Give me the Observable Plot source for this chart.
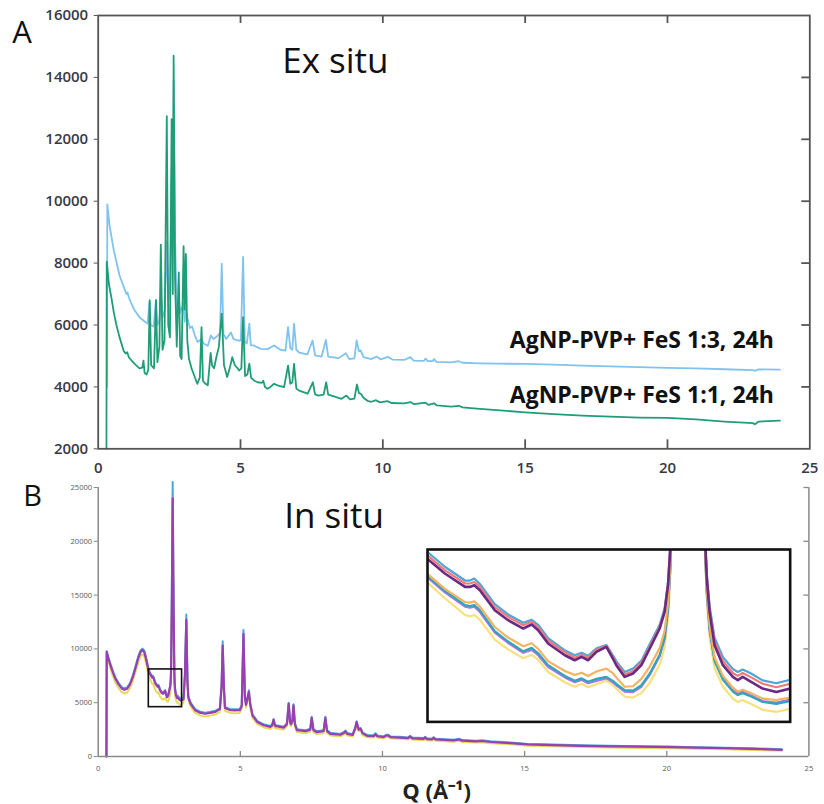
<!DOCTYPE html>
<html><head><meta charset="utf-8">
<script src="https://cdn.jsdelivr.net/npm/d3@7"></script>
<script src="https://cdn.jsdelivr.net/npm/@observablehq/plot@0.6"></script>
<style>
html,body{margin:0;padding:0;background:#fff;}
#wrap{position:relative;width:824px;height:804px;overflow:hidden;font-family:"Open Sans",sans-serif;}
#wrap svg{overflow:visible;}
#plotA [aria-label="y-axis tick label"] text,#plotA [aria-label="x-axis tick label"] text{font-weight:600;}
</style></head>
<body><div id="wrap"></div>
<script>
// ---------- Panel A (ex situ) ----------
const aXTicks = [0, 5, 10, 15, 20, 25];
const aYTicks = [2000, 4000, 6000, 8000, 10000, 12000, 14000, 16000];
const seriesLabels = ["AgNP-PVP+ FeS 1:3, 24h", "AgNP-PVP+ FeS 1:1, 24h"];
// [Q, intensity]
const aFeS13 = [[0.31,4000],[0.32,9900],[0.40,9200],[0.55,8400],[0.75,7600],[0.99,7000],[1.03,7050],[1.08,6880],[1.25,6520],[1.45,6250],[1.62,6120],[1.74,6050],[1.80,6750],[1.84,6000],[1.95,5950],[2.03,6800],[2.08,6000],[2.15,6150],[2.20,7000],[2.26,6250],[2.34,6500],[2.41,8700],[2.46,6800],[2.52,7200],[2.58,10900],[2.62,9000],[2.65,13900],[2.70,8800],[2.76,6500],[2.83,6900],[2.88,6400],[3.00,6700],[3.04,6100],[3.08,6500],[3.14,6200],[3.22,5900],[3.30,5950],[3.40,5650],[3.50,5450],[3.63,5550],[3.70,5400],[3.85,5330],[3.96,5660],[4.05,5550],[4.20,5650],[4.28,5750],[4.34,7980],[4.40,5700],[4.50,5550],[4.66,5760],[4.75,5550],[4.90,5500],[5.01,5500],[5.09,8200],[5.15,5450],[5.22,5400],[5.31,6040],[5.36,5350],[5.48,5330],[5.71,5230],[5.95,5220],[6.18,5340],[6.40,5200],[6.58,5170],[6.67,5930],[6.75,5250],[6.82,5200],[6.88,6040],[6.96,5200],[7.06,5110],[7.35,5050],[7.53,5500],[7.62,5020],[7.85,4980],[8.00,5520],[8.08,4980],[8.45,4930],[8.70,5090],[8.82,4900],[9.00,4920],[9.08,5500],[9.16,5150],[9.22,5180],[9.32,4960],[9.60,4900],[9.78,4980],[9.92,4890],[10.18,4970],[10.35,4880],[10.75,4870],[10.97,4960],[11.08,4850],[11.45,4840],[11.50,4920],[11.58,4830],[11.75,4830],[11.80,4900],[11.88,4810],[12.40,4790],[12.67,4830],[12.80,4780],[13.40,4760],[14.00,4750],[15.00,4745],[16.00,4720],[17.00,4690],[18.00,4660],[19.00,4640],[20.00,4616],[21.00,4600],[22.00,4570],[23.00,4545],[23.07,4520],[23.20,4565],[23.95,4555]];
const aFeS11 = [[0.29,2000],[0.30,8050],[0.38,7300],[0.46,6900],[0.55,6400],[0.63,6040],[0.75,5600],[0.90,5150],[0.98,5080],[1.02,5120],[1.08,4950],[1.27,4750],[1.45,4600],[1.55,4620],[1.59,4850],[1.63,4450],[1.70,4400],[1.76,4550],[1.81,6800],[1.86,4700],[1.96,4600],[2.03,6800],[2.08,4800],[2.15,5300],[2.20,8600],[2.26,5200],[2.33,5500],[2.41,12750],[2.46,6000],[2.52,5600],[2.58,12650],[2.62,7000],[2.65,14700],[2.70,7500],[2.76,5300],[2.83,7700],[2.88,5000],[2.93,4900],[3.00,8550],[3.04,6500],[3.08,8300],[3.13,5500],[3.19,4900],[3.28,4600],[3.36,4400],[3.48,4100],[3.57,4300],[3.63,5930],[3.68,4200],[3.77,4100],[3.85,4050],[3.95,5100],[4.00,4700],[4.07,4600],[4.16,5000],[4.24,5300],[4.34,6370],[4.42,4700],[4.53,4320],[4.62,4600],[4.71,4960],[4.80,4700],[4.90,4600],[4.95,4530],[5.03,4600],[5.09,6250],[5.16,4350],[5.24,4400],[5.31,4750],[5.37,4300],[5.48,4200],[5.60,4150],[5.75,4130],[5.80,4200],[5.86,4000],[5.95,3940],[6.05,4000],[6.18,4100],[6.30,4050],[6.53,3990],[6.67,4690],[6.75,4100],[6.82,4150],[6.88,4745],[6.96,3950],[7.06,3880],[7.36,3780],[7.54,4150],[7.62,3760],[7.73,3720],[7.92,3750],[8.01,4150],[8.08,3750],[8.20,3720],[8.55,3615],[8.72,3720],[8.85,3600],[9.00,3620],[9.09,4077],[9.16,3800],[9.23,3776],[9.32,3650],[9.46,3550],[9.60,3520],[9.76,3570],[9.90,3500],[10.16,3540],[10.30,3480],[10.75,3470],[10.97,3510],[11.10,3440],[11.50,3490],[11.60,3420],[11.80,3470],[11.90,3400],[12.40,3360],[12.67,3390],[12.80,3340],[13.30,3300],[14.00,3250],[15.00,3180],[16.00,3120],[17.00,3070],[18.00,3040],[19.00,3010],[20.00,3000],[21.00,2950],[22.00,2880],[23.00,2830],[23.07,2790],[23.20,2880],[23.95,2910]];

// ---------- Panel B (in situ) ----------
const bXTicks = [0, 5, 10, 15, 20, 25];
const bYTicks = [0, 5000, 10000, 15000, 20000, 25000];
const bLoQ = [0.29,0.30,0.36,0.43,0.52,0.61,0.72,0.82,0.92,1.02,1.12,1.22,1.32,1.42,1.50,1.56,1.62,1.68,1.73];
const bPurpleLo = [0,9700,9100,8500,7800,7200,6700,6350,6200,6300,6700,7400,8300,9250,9750,9880,9700,9100,8500];
const bBlueLo   = [0,9800,9200,8620,7920,7320,6820,6470,6330,6430,6830,7540,8450,9400,9900,10030,9850,9240,8640];
const bYellowLo = [0,9500,8800,8150,7450,6850,6350,6000,5850,5950,6350,7030,7900,8820,9350,9480,9300,8700,8050];
const bHiQ = [3.00,3.05,3.10,3.14,3.17,3.25,3.41,3.60,3.77,3.95,4.12,4.28,4.34,4.38,4.42,4.46,4.65,4.81,4.98,5.05,5.11,5.16,5.20,5.26,5.30,5.35,5.43,5.60,5.82,6.05,6.12,6.17,6.22,6.52,6.64,6.70,6.75,6.78,6.83,6.87,6.92,6.99,7.30,7.46,7.51,7.57,7.69,7.93,7.99,8.05,8.17,8.52,8.65,8.70,8.76,8.95,9.04,9.09,9.16,9.23,9.30,9.46,9.70,9.75,9.82,10.04,10.13,10.20,10.28,10.60,10.90,10.97,11.05,11.45,11.50,11.56,11.75,11.80,11.86,12.50,12.70,12.80,13.30,13.50,13.80,14.50,15.10,16.00,17.00,18.00,19.00,20.10,21.00,22.00,23.00,24.05];
const bPurpleHi = [5300,7500,12700,7000,5500,4900,4300,4050,3970,4050,4150,4400,6500,10300,6500,4500,4300,4280,4300,4700,11400,5500,4800,5500,6000,4800,3800,3200,2900,2750,2900,3400,2850,2680,3000,4900,3200,3000,3300,4750,3000,2450,2350,2500,3600,2450,2260,2350,3600,2350,2110,2020,2200,2330,2100,2000,2600,3200,2500,2570,2150,1920,1900,2080,1880,1800,1950,1950,1800,1760,1700,1850,1690,1640,1770,1620,1600,1730,1590,1500,1580,1470,1410,1440,1350,1240,1120,1060,990,950,910,870,820,770,714,620];
const bBlueHi = [5400,7600,13200,7100,5600,5000,4400,4150,4070,4150,4250,4500,6600,10700,6600,4600,4400,4380,4400,4800,11750,5600,4900,5600,6150,4900,3900,3290,2990,2840,2990,3490,2940,2770,3090,5000,3290,3090,3390,4850,3090,2540,2440,2590,3690,2540,2350,2440,3690,2440,2200,2100,2280,2410,2180,2080,2680,3280,2580,2650,2230,2000,1980,2160,1960,1870,2020,2020,1870,1830,1770,1920,1760,1710,1840,1690,1670,1800,1660,1560,1640,1530,1470,1500,1410,1300,1170,1110,1040,1000,960,920,870,820,764,670];
const bYellowHi = [5050,7250,12400,6750,5250,4650,4050,3800,3720,3800,3900,4150,6250,10000,6250,4250,4050,4030,4050,4450,11100,5250,4550,5250,5750,4550,3580,3000,2700,2550,2700,3200,2650,2480,2800,4700,3000,2800,3100,4550,2800,2270,2170,2320,3420,2270,2080,2170,3420,2170,1950,1870,2050,2180,1950,1850,2450,3050,2350,2420,2000,1790,1770,1950,1750,1670,1820,1820,1670,1640,1580,1730,1570,1520,1650,1500,1480,1610,1470,1380,1460,1350,1290,1320,1230,1130,1010,950,880,840,800,760,710,670,614,530];

// ---------- Inset (zoom of the boxed region) ----------
const insetQDomain = [1.78, 2.95];
const insetIDomain = [4585, 8091];
const insetQ = [1.78,1.836,1.901,1.917,1.931,1.949,1.997,2.040,2.089,2.116,2.137,2.169,2.223,2.255,2.277,2.298,2.325,2.357,2.378,2.389,2.416,2.443,2.470,2.497,2.529,2.545,2.556,2.563,2.59,2.62,2.65,2.677,2.681,2.690,2.706,2.733,2.765,2.781,2.797,2.824,2.861,2.905,2.95];
const insetBlue   = [8040,7740,7460,7460,7500,7390,6980,6770,6600,6660,6560,6290,6040,5940,5990,5930,6080,6150,5940,5820,5600,5670,5830,6170,6560,6900,7430,8150,15000,25500,15000,8150,7600,6950,6300,5900,5660,5600,5650,5570,5430,5370,5440];
const insetRed    = [7970,7670,7400,7400,7430,7330,6920,6720,6550,6620,6510,6240,6000,5890,5950,5890,6050,6130,5910,5780,5550,5620,5790,6120,6520,6860,7400,8110,14500,24800,14500,8110,7550,6890,6220,5820,5580,5520,5580,5490,5360,5290,5360];
const insetPurple = [7900,7603,7330,7330,7365,7263,6856,6653,6484,6566,6450,6179,5941,5839,5907,5839,6008,6110,5874,5738,5500,5569,5738,6077,6484,6822,7365,8077,14000,24000,14000,8077,7501,6822,6144,5738,5500,5433,5500,5399,5264,5195,5264];
const insetOrange = [7595,7290,7020,7010,7035,6930,6515,6300,6125,6185,6070,5820,5620,5540,5585,5520,5610,5670,5575,5490,5300,5310,5460,5710,6085,6440,7015,7780,13500,24500,13500,7900,7300,6550,5900,5520,5280,5200,5240,5170,5060,5030,5080];
const insetTeal   = [7550,7250,6960,6940,6960,6860,6430,6220,6020,6090,5980,5740,5520,5420,5470,5400,5460,5500,5420,5360,5230,5220,5330,5570,5950,6300,6900,7700,13300,24300,13300,7850,7250,6480,5820,5440,5200,5130,5170,5100,4990,4950,5010];
const insetViolet = [7520,7220,6930,6910,6930,6820,6400,6190,5990,6050,5940,5700,5490,5390,5440,5370,5420,5470,5390,5330,5200,5190,5300,5540,5920,6270,6870,7650,13200,24200,13200,7800,7200,6450,5860,5470,5230,5170,5200,5120,5010,4980,5040];
const insetYellow = [7420,7100,6760,6730,6760,6660,6260,6060,5880,5950,5850,5600,5390,5300,5360,5290,5350,5420,5340,5260,5100,5080,5170,5380,5750,6100,6700,7500,13000,24000,13000,7700,7050,6300,5680,5300,5060,4990,5030,4950,4830,4790,4850];

// ---------- build ----------
const wrap = document.getElementById("wrap");
function place(el, left, top, id) {
  el.style.position = "absolute"; el.style.left = left + "px"; el.style.top = top + "px";
  if (id) el.id = id;
  wrap.appendChild(el);
}
const toRows = (pairs) => pairs.map(([q, v]) => ({q, v}));
const zipRows = (qs, vs) => qs.map((q, i) => ({q, v: vs[i]}));
const tickFmt = d3.format("d");

// Panel A geometry (pixels)
const A = {w: 824, h: 482, ml: 97.7, mr: 14.7, mt: 15, mb: 33.7};
const aFW = A.w - A.ml - A.mr, aFH = A.h - A.mt - A.mb;
const aLabelFont = {fontSize: 15, fontWeight: 600, fill: "#393946"};
const axisGrey = "#555";

const plotA = Plot.plot({
  width: A.w, height: A.h,
  marginLeft: A.ml, marginRight: A.mr, marginTop: A.mt, marginBottom: A.mb,
  style: {background: "transparent", overflow: "visible", fontFamily: "Open Sans, sans-serif"},
  x: {domain: [0, 25]},
  y: {domain: [2000, 16000]},
  marks: [
    Plot.line(toRows(aFeS13), {x: "q", y: "v", stroke: "#7fc3ee", strokeWidth: 1.8}),
    Plot.line(toRows(aFeS11), {x: "q", y: "v", stroke: "#1f9d77", strokeWidth: 1.8}),
    Plot.frame({stroke: axisGrey, strokeWidth: 1.8}),
    // inward ticks: bottom, top, right
    Plot.ruleX(aXTicks.slice(1, -1), {insetTop: aFH - 9, stroke: axisGrey, strokeWidth: 1.8}),
    Plot.ruleX(aXTicks.slice(1, -1), {insetBottom: aFH - 8, stroke: axisGrey, strokeWidth: 1.8}),
    Plot.ruleY(aYTicks.slice(1, -1), {insetLeft: aFW - 8, stroke: axisGrey, strokeWidth: 1.8}),
    Plot.axisY(aYTicks, {anchor: "left", tickSize: 4, tickPadding: 6, tickFormat: tickFmt, label: null, stroke: axisGrey, ...aLabelFont}),
    Plot.axisX(aXTicks, {anchor: "bottom", tickSize: 0, tickPadding: 14, tickFormat: tickFmt, label: null, ...aLabelFont}),
    Plot.text(["A"], {frameAnchor: "top-left", text: d => d, dx: -86, dy: 5, lineAnchor: "top", textAnchor: "start", fontSize: 31, fill: "#111"}),
    Plot.text(["Ex situ"], {frameAnchor: "top-left", text: d => d, dx: 184, dy: 33, lineAnchor: "top", textAnchor: "start", fontSize: 35, fill: "#111"}),
    Plot.text([seriesLabels[0]], {frameAnchor: "top-right", text: d => d, dx: -36, dy: 316, lineAnchor: "top", textAnchor: "end", fontSize: 23, fontWeight: 700, fill: "#111"}),
    Plot.text([seriesLabels[1]], {frameAnchor: "top-right", text: d => d, dx: -36, dy: 371, lineAnchor: "top", textAnchor: "end", fontSize: 23, fontWeight: 700, fill: "#111"})
  ]
});
place(plotA, 0, 0, "plotA");

const bPurple = [...zipRows(bLoQ, bPurpleLo), ...zipRows(insetQ, insetPurple), ...zipRows(bHiQ, bPurpleHi)];
const bBlue = [...zipRows(bLoQ, bBlueLo), ...zipRows(insetQ, insetBlue), ...zipRows(bHiQ, bBlueHi)];
const bYellow = [...zipRows(bLoQ, bYellowLo), ...zipRows(insetQ, insetYellow), ...zipRows(bHiQ, bYellowHi)];
const bLabelFont = {fontSize: 7.6, fill: "#5a5a5a"};

// Panel B geometry (pixels)
const B = {w: 824, h: 334, ml: 97.7, mr: 15.6, mt: 17, mb: 48};
const bFW = B.w - B.ml - B.mr, bFH = B.h - B.mt - B.mb;
const bGrey = "#8a8a8a";

const plotB = Plot.plot({
  width: B.w, height: B.h,
  marginLeft: B.ml, marginRight: B.mr, marginTop: B.mt, marginBottom: B.mb,
  style: {background: "transparent", overflow: "visible", fontFamily: "Open Sans, sans-serif"},
  x: {domain: [0, 25]},
  y: {domain: [0, 25000]},
  marks: [
    Plot.line(bYellow, {x: "q", y: "v", stroke: "#e4dc5e", strokeWidth: 2}),
    Plot.line(bBlue, {x: "q", y: "v", stroke: "#4ea6d6", strokeWidth: 2}),
    Plot.line(bPurple, {x: "q", y: "v", stroke: "#9a3fb2", strokeWidth: 2.2}),
    Plot.ruleX([bXTicks[0]], {stroke: bGrey, strokeWidth: 1.5}),
    Plot.ruleX([bXTicks[bXTicks.length - 1]], {stroke: bGrey, strokeWidth: 1.5}),
    Plot.ruleY([bYTicks[0]], {stroke: bGrey, strokeWidth: 1.5}),
    // inward ticks: bottom and right
    Plot.ruleX(bXTicks.slice(1, -1), {insetTop: bFH - 5, stroke: bGrey, strokeWidth: 1.3}),
    Plot.ruleY(bYTicks.slice(1), {insetLeft: bFW - 5, stroke: bGrey, strokeWidth: 1.3}),
    Plot.axisY(bYTicks, {anchor: "left", tickSize: 4, tickPadding: 2, tickFormat: tickFmt, label: null, stroke: bGrey, ...bLabelFont}),
    Plot.axisX(bXTicks, {anchor: "bottom", tickSize: 0, tickPadding: 9, tickFormat: tickFmt, label: null, ...bLabelFont}),
    Plot.rect([insetQDomain], {x1: d => d[0], x2: d => d[1], y1: () => insetIDomain[0], y2: () => insetIDomain[1], fill: "none", stroke: "#111", strokeWidth: 1.6}),
    Plot.text(["B"], {frameAnchor: "top-left", text: d => d, dx: -75, dy: -2, lineAnchor: "top", textAnchor: "start", fontSize: 29, fill: "#111"}),
    Plot.text(["In situ"], {frameAnchor: "top-left", text: d => d, dx: 186, dy: 16, lineAnchor: "top", textAnchor: "start", fontSize: 35, fill: "#111"}),
    Plot.text(["Q (Å⁻¹)"], {frameAnchor: "bottom", text: d => d, dx: -17, dy: 27, lineAnchor: "top", textAnchor: "middle", fontSize: 22, fontWeight: 700, fill: "#222"})
  ]
});
place(plotB, 0, 470, "plotB");

const insetSeries = [
  [insetYellow, "#f5e27c"], [insetViolet, "#b272e8"], [insetTeal, "#2ea7b4"], [insetOrange, "#f4b262"],
  [insetBlue, "#4ea6d6"], [insetRed, "#f07a7a"], [insetPurple, "#6a2a84"]
];
const plotI = Plot.plot({
  width: 362.7, height: 172.4, margin: 0,
  style: {background: "#fff", overflow: "visible"},
  x: {domain: insetQDomain, axis: null},
  y: {domain: insetIDomain, axis: null},
  marks: [
    ...insetSeries.map(([vals, color]) => Plot.line(zipRows(insetQ, vals), {x: "q", y: "v", stroke: color, strokeWidth: color === "#6a2a84" ? 2.6 : 2.2, clip: true})),
    Plot.frame({stroke: "#111", strokeWidth: 2.6})
  ]
});
place(plotI, 427.3, 549.3, "plotI");
</script>
</body></html>
